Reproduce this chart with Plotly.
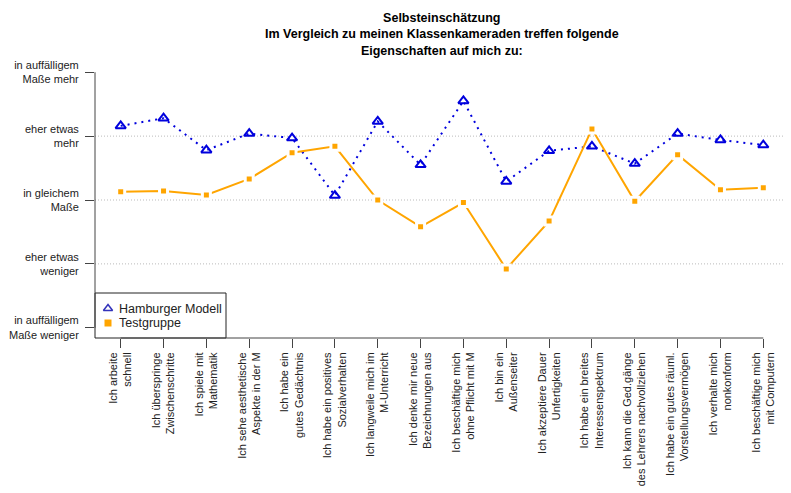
import plotly.graph_objects as go

categories = [
    "Ich arbeite<br>schnell",
    "Ich überspringe<br>Zwischenschritte",
    "Ich spiele mit<br>Mathematik",
    "Ich sehe aesthetische<br>Aspekte in der M",
    "Ich habe ein<br>gutes Gedächtnis",
    "Ich habe ein positives<br>Sozialverhalten",
    "Ich langweile mich im<br>M-Unterricht",
    "Ich denke mir neue<br>Bezeichnungen aus",
    "Ich beschäftige mich<br>ohne Pflicht mit M",
    "Ich bin ein<br>Außenseiter",
    "Ich akzeptiere Dauer<br>Unfertigkeiten",
    "Ich habe ein breites<br>Interessenspektrum",
    "Ich kann die Ged.gänge<br>des Lehrers nachvollziehen",
    "Ich habe ein gutes räuml.<br>Vorstellungsvermögen",
    "Ich verhalte mich<br>nonkonform",
    "Ich beschäftige mich<br>mit Computern",
]
hamburger = [4.16, 4.28, 3.78, 4.04, 3.97, 3.07, 4.23, 3.55,
             4.55, 3.29, 3.77, 3.84, 3.57, 4.04, 3.94, 3.86]
testgruppe = [3.13, 3.14, 3.08, 3.33, 3.74, 3.84, 3.00, 2.58,
              2.96, 1.92, 2.67, 4.11, 2.98, 3.71, 3.16, 3.19]
y_levels = [1, 2, 3, 4, 5]
y_labels = ["in auffälligem<br>Maße weniger", "eher etwas<br>weniger",
            "in gleichem<br>Maße", "eher etwas<br>mehr",
            "in auffälligem<br>Maße mehr"]
grid_levels = [2, 3, 4]
series_names = ["Hamburger Modell", "Testgruppe"]

x = list(range(1, len(categories) + 1))
BLUE = "#0000dd"
ORANGE = "#ffa500"
FONT = "Liberation Sans, Arial, sans-serif"

# The page body has an 8px margin, so the figure is drawn from (8, 8).
OFF = 8
W, H = 791 - OFF, 493 - OFF
L, R, T, B = 95 - OFF, 2, 62 - OFF, 155
PW, PH = W - L - R, H - T - B
PLOT_L, PLOT_B = L + OFF, OFF + H - B   # page coords of plot-area corner


def px(xp):
    return (xp - PLOT_L) / PW


def py(yp):
    return (PLOT_B - yp) / PH


fig = go.Figure()
fig.add_trace(go.Scatter(
    x=x, y=hamburger, mode="lines+markers", name=series_names[0], showlegend=False,
    line=dict(color=BLUE, width=2, dash="2px,5px"),
    marker=dict(symbol="triangle-up-open", size=9, color=BLUE,
                line=dict(width=2, color=BLUE)),
))
fig.add_trace(go.Scatter(
    x=x, y=testgruppe, mode="lines+markers", name=series_names[1], showlegend=False,
    line=dict(color=ORANGE, width=2),
    marker=dict(symbol="square", size=8, color=ORANGE,
                line=dict(width=3, color="white")),
))

# legend symbols on an invisible overlay axis (0..1 over the plot area)
leg_sym_x = px(108)
leg_rows_y = [py(308.5), py(323)]
fig.add_trace(go.Scatter(
    x=[leg_sym_x], y=[leg_rows_y[0]], xaxis="x2", yaxis="y2", mode="markers",
    showlegend=False, hoverinfo="skip",
    marker=dict(symbol="triangle-up-open", size=8, color="#3333bb",
                line=dict(width=1.5, color="#3333bb")),
))
fig.add_trace(go.Scatter(
    x=[leg_sym_x], y=[leg_rows_y[1]], xaxis="x2", yaxis="y2", mode="markers",
    showlegend=False, hoverinfo="skip",
    marker=dict(symbol="square", size=7, color=ORANGE),
))

shapes = []
for g in grid_levels:
    shapes.append(dict(type="line", xref="paper", x0=0, x1=1, yref="y", y0=g, y1=g,
                       line=dict(color="#bbbbbb", width=1, dash="1px,2px"), layer="below"))
# legend box (below the traces so its symbols show)
shapes.append(dict(type="rect", xref="paper", yref="paper",
                   x0=0, x1=px(226), y0=0, y1=py(293),
                   line=dict(color="#222", width=1), fillcolor="white", layer="below"))
# axis lines spanning first to last tick (R style)
shapes.append(dict(type="line", xref="paper", x0=0, x1=0, yref="y",
                   y0=y_levels[0], y1=y_levels[-1], line=dict(color="#444", width=1)))
shapes.append(dict(type="line", xref="x", x0=x[0], x1=x[-1], yref="paper",
                   y0=0, y1=0, line=dict(color="#444", width=1)))

annotations = [
    dict(text="<b>Selbsteinschätzung<br>Im Vergleich zu meinen Klassenkameraden treffen folgende<br>Eigenschaften auf mich zu:</b>",
         xref="paper", yref="paper", x=0.5, y=1, xanchor="center", yanchor="bottom",
         yshift=3, showarrow=False, align="center", borderpad=0,
         font=dict(family=FONT, size=12.5, color="black")),
]
for name, yy in zip(series_names, leg_rows_y):
    annotations.append(dict(text=name, xref="paper", yref="paper", x=px(117), y=yy,
                            xanchor="left", yanchor="middle", showarrow=False,
                            font=dict(family=FONT, size=12.5, color="#222")))

fig.update_layout(
    width=W, height=H,
    margin=dict(l=L, r=R, t=T, b=B),
    paper_bgcolor="white", plot_bgcolor="white",
    font=dict(family=FONT, size=11, color="#222"),
    showlegend=False,
    xaxis=dict(
        range=[0.4, 16.6], tickmode="array", tickvals=x, ticktext=categories,
        tickangle=-90, ticks="outside", ticklen=9, tickcolor="#444",
        showgrid=False, zeroline=False, showline=False, automargin=False,
        tickfont=dict(family=FONT, size=11, color="#222"),
    ),
    yaxis=dict(
        range=[0.84, 5.16], tickmode="array", tickvals=y_levels, ticktext=y_labels,
        ticks="outside", ticklen=9, tickcolor="#444", ticklabelstandoff=4,
        showgrid=False, zeroline=False, showline=False, automargin=False,
        tickfont=dict(family=FONT, size=11, color="#222"),
    ),
    xaxis2=dict(overlaying="x", range=[0, 1], visible=False, fixedrange=True),
    yaxis2=dict(overlaying="y", range=[0, 1], visible=False, fixedrange=True),
    shapes=shapes,
    annotations=annotations,
)

fig.write_html("out.html")
